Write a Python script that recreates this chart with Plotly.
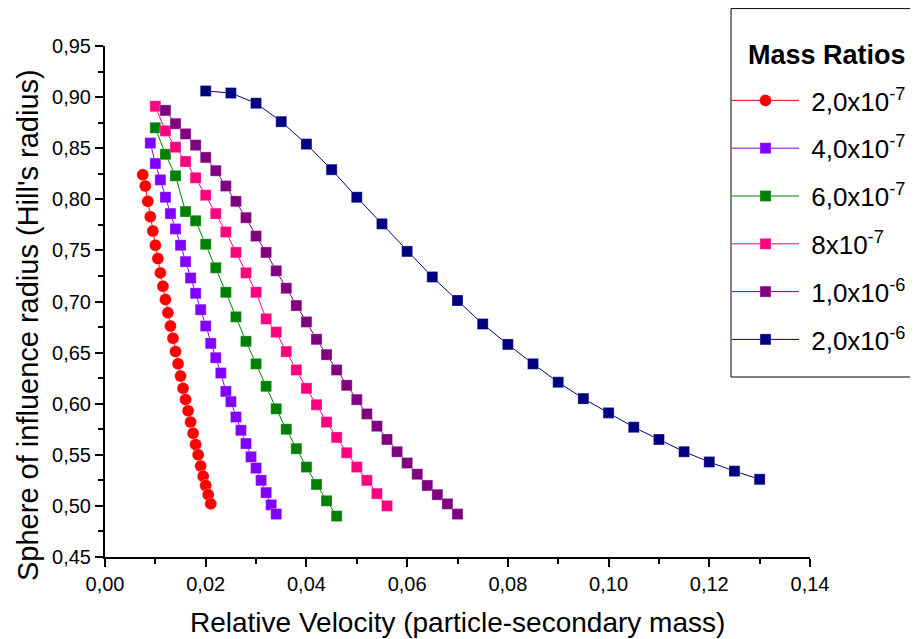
import plotly.graph_objects as go

# ---- data ----
series_names = ["2,0x10<sup>-7</sup>", "4,0x10<sup>-7</sup>", "6,0x10<sup>-7</sup>",
                "8x10<sup>-7</sup>", "1,0x10<sup>-6</sup>", "2,0x10<sup>-6</sup>"]

x_2e7 = [0.0075, 0.0080, 0.0085, 0.0090, 0.0095, 0.0100, 0.0105, 0.0110, 0.0115, 0.0120,
         0.0125, 0.0130, 0.0135, 0.0140, 0.0145, 0.0150, 0.0155, 0.0160, 0.0165, 0.0170,
         0.0175, 0.0180, 0.0185, 0.0190, 0.0195, 0.0200, 0.0205, 0.0210]
y_2e7 = [0.824, 0.813, 0.798, 0.783, 0.769, 0.755, 0.742, 0.728, 0.715, 0.702,
         0.689, 0.676, 0.664, 0.651, 0.639, 0.627, 0.615, 0.604, 0.593, 0.582,
         0.571, 0.560, 0.550, 0.539, 0.529, 0.520, 0.511, 0.502]

x_4e7 = [0.009, 0.010, 0.011, 0.012, 0.013, 0.014, 0.015, 0.016, 0.017, 0.018,
         0.019, 0.020, 0.021, 0.022, 0.023, 0.024, 0.025, 0.026, 0.027, 0.028,
         0.029, 0.030, 0.031, 0.032, 0.033, 0.034]
y_4e7 = [0.855, 0.835, 0.819, 0.802, 0.786, 0.771, 0.755, 0.739, 0.723, 0.708,
         0.692, 0.676, 0.659, 0.645, 0.630, 0.612, 0.602, 0.587, 0.574, 0.561,
         0.548, 0.537, 0.525, 0.513, 0.501, 0.492]

x_6e7 = [0.010, 0.012, 0.014, 0.016, 0.018, 0.020, 0.022, 0.024, 0.026, 0.028,
         0.030, 0.032, 0.034, 0.036, 0.038, 0.040, 0.042, 0.044, 0.046]
y_6e7 = [0.870, 0.844, 0.823, 0.788, 0.779, 0.756, 0.733, 0.709, 0.685, 0.661,
         0.639, 0.617, 0.595, 0.575, 0.556, 0.538, 0.521, 0.505, 0.490]

x_8e7 = [0.010, 0.012, 0.014, 0.016, 0.018, 0.020, 0.022, 0.024, 0.026, 0.028,
         0.030, 0.032, 0.034, 0.036, 0.038, 0.040, 0.042, 0.044, 0.046, 0.048,
         0.050, 0.052, 0.054, 0.056]
y_8e7 = [0.891, 0.867, 0.851, 0.837, 0.821, 0.804, 0.786, 0.768, 0.748, 0.728,
         0.709, 0.683, 0.670, 0.651, 0.633, 0.615, 0.599, 0.582, 0.567, 0.552,
         0.538, 0.525, 0.512, 0.500]

x_1e6 = [0.012, 0.014, 0.016, 0.018, 0.020, 0.022, 0.024, 0.026, 0.028, 0.030,
         0.032, 0.034, 0.036, 0.038, 0.040, 0.042, 0.044, 0.046, 0.048, 0.050,
         0.052, 0.054, 0.056, 0.058, 0.060, 0.062, 0.064, 0.066, 0.068, 0.070]
y_1e6 = [0.887, 0.874, 0.864, 0.853, 0.841, 0.828, 0.813, 0.798, 0.782, 0.764,
         0.748, 0.730, 0.713, 0.696, 0.680, 0.663, 0.648, 0.633, 0.618, 0.604,
         0.590, 0.578, 0.565, 0.553, 0.542, 0.531, 0.520, 0.511, 0.502, 0.492]

x_2e6 = [0.020, 0.025, 0.030, 0.035, 0.040, 0.045, 0.050, 0.055, 0.060, 0.065,
         0.070, 0.075, 0.080, 0.085, 0.090, 0.095, 0.100, 0.105, 0.110, 0.115,
         0.120, 0.125, 0.130]
y_2e6 = [0.906, 0.904, 0.894, 0.876, 0.854, 0.829, 0.802, 0.776, 0.749, 0.724,
         0.701, 0.678, 0.658, 0.639, 0.621, 0.605, 0.591, 0.577, 0.565, 0.553,
         0.543, 0.534, 0.526]

legend_title = "Mass Ratios"
x_title = "Relative Velocity (particle-secondary mass)"
y_title = "Sphere of influence radius (Hill's radius)"

xs = [x_2e7, x_4e7, x_6e7, x_8e7, x_1e6, x_2e6]
ys = [y_2e7, y_4e7, y_6e7, y_8e7, y_1e6, y_2e6]
colors = ["#FF0000", "#8000FF", "#008000", "#FF0080", "#800080", "#000080"]
symbols = ["circle", "square", "square", "square", "square", "square"]

FONT = "Liberation Sans, Arial, Helvetica, sans-serif"

# page body has an 8px default margin, so the figure is offset by 8px in the window
OFF = 8
W, H = 918 - OFF, 639 - OFF
ML, MT = 105 - OFF, 46 - OFF
MR = W - (810 - OFF)
MB = H - (557 - OFF)
PW, PH = W - ML - MR, H - MT - MB


def px_x(p):  # screen pixel -> paper x
    return (p - OFF - ML) / PW


def px_y(p):  # screen pixel -> paper y
    return (H - MB - (p - OFF)) / PH


fig = go.Figure()
for i in range(6):
    fig.add_trace(go.Scatter(
        x=xs[i], y=ys[i], name="\u00a0" + series_names[i], mode="lines+markers",
        legendgroup=f"g{i}",
        line=dict(color=colors[i], width=1),
        marker=dict(symbol=symbols[i], color=colors[i],
                    size=12 if symbols[i] == "circle" else 11,
                    line=dict(width=0.6, color="rgba(255,255,255,0.5)")),
    ))

# legend frame (runs past the right edge like in the reference)
fig.add_shape(type="rect", xref="paper", yref="paper",
              x0=px_x(731), x1=px_x(940), y0=px_y(377), y1=px_y(8.6),
              line=dict(color="black", width=1), fillcolor="white", layer="above")

fig.add_annotation(text=f"<b>{legend_title}</b>", xref="paper", yref="paper",
                   x=px_x(827), y=px_y(55), xanchor="center", yanchor="middle",
                   showarrow=False, font=dict(size=27, family=FONT, color="black"))

fig.add_annotation(text=y_title, xref="paper", yref="paper",
                   x=px_x(28), y=px_y(325), xanchor="center", yanchor="middle",
                   textangle=-90, showarrow=False,
                   font=dict(size=29, family=FONT, color="black"))

fig.add_annotation(text=x_title, xref="paper", yref="paper",
                   x=px_x(458), y=px_y(623), xanchor="center", yanchor="middle",
                   showarrow=False,
                   font=dict(size=28, family=FONT, color="black"))

fig.update_layout(
    width=W, height=H,
    paper_bgcolor="white", plot_bgcolor="white",
    separators=",.",
    margin=dict(l=ML, r=MR, t=MT, b=MB, autoexpand=False),
    font=dict(family=FONT, color="black"),
    showlegend=True,
    legend=dict(
        x=px_x(727), y=px_y(77), xanchor="left", yanchor="top",
        bgcolor="rgba(0,0,0,0)", borderwidth=0,
        font=dict(size=26, family=FONT),
        itemwidth=67, tracegroupgap=11,
    ),
)

fig.update_xaxes(
    range=[0, 0.14], dtick=0.02, tick0=0, tickformat=".2f",
    showgrid=False, zeroline=False, automargin=False,
    showline=True, linecolor="black", linewidth=2,
    ticks="outside", ticklen=8, tickwidth=2, tickcolor="black",
    tickfont=dict(size=20, family=FONT),
    minor=dict(ticks="outside", ticklen=5, tickwidth=2, tickcolor="black", dtick=0.01, showgrid=False),
)
fig.update_yaxes(
    range=[0.45, 0.95], dtick=0.05, tick0=0.45, tickformat=".2f",
    showgrid=False, zeroline=False, automargin=False,
    showline=True, linecolor="black", linewidth=2,
    ticks="outside", ticklen=8, tickwidth=2, tickcolor="black",
    tickfont=dict(size=20, family=FONT),
    minor=dict(ticks="outside", ticklen=5, tickwidth=2, tickcolor="black", dtick=0.025, showgrid=False),
)

fig.write_html("out.html")
